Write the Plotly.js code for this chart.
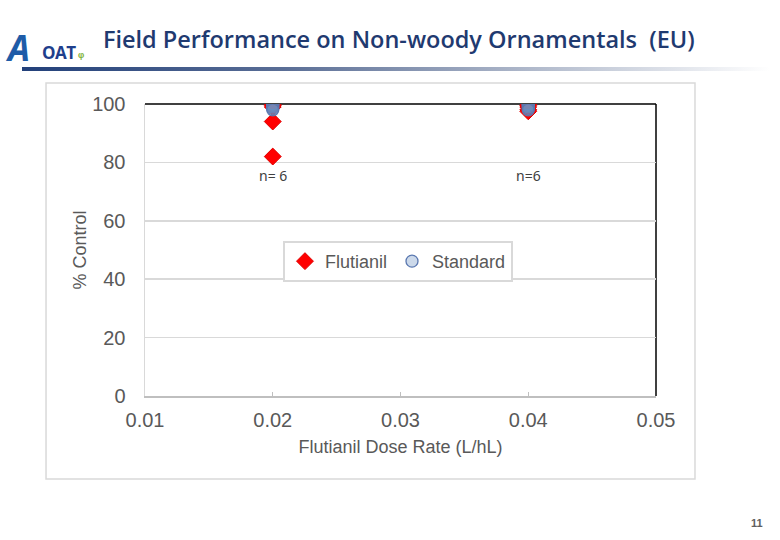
<!DOCTYPE html>
<html>
<head>
<meta charset="utf-8">
<script src="https://cdn.plot.ly/plotly-3.0.1.min.js"></script>
<style>
  html, body { margin: 0; padding: 0; background: #ffffff; }
  #wrap { position: relative; width: 780px; height: 540px; overflow: hidden; }
  #chart { position: absolute; left: 0; top: 0; width: 780px; height: 540px; }
  #bar { position: absolute; left: 22px; top: 67px; width: 748px; height: 4px;
         background: linear-gradient(to right, #22407a 0%, #5a6e96 35%, #a8b2c6 65%, #ffffff 100%); }
  .logo { position: absolute; font-family: "Open Sans", sans-serif; white-space: nowrap; line-height: 1; font-weight: 700; }
  #logoA { left: 8px; top: 30px; font-size: 35px; font-style: italic; color: #1e5ca8; }
  #logoO { left: 42px; top: 44px; font-size: 17px; color: #1f3f8c; letter-spacing: -0.5px; }
  #logoG { left: 78px; top: 46px; font-size: 13px; color: #7db33a; }
</style>
</head>
<body>
<div id="wrap">
  <div id="chart"></div>
  <div id="bar"></div>
  <div class="logo" id="logoA">A</div>
  <div class="logo" id="logoO">OAT</div>
  <div class="logo" id="logoG">ᵩ</div>
</div>
<script>
// Data
const flutianilDose = [0.02, 0.02, 0.02, 0.02, 0.02, 0.02, 0.04, 0.04, 0.04, 0.04, 0.04, 0.04];
const flutianilControl = [100, 100, 99.5, 99, 94, 82, 100, 100, 99.5, 99, 98, 97.5];
const standardDose = [0.02, 0.02, 0.02, 0.02, 0.02, 0.02, 0.04, 0.04, 0.04, 0.04, 0.04, 0.04];
const standardControl = [100, 100, 99.5, 99, 98.5, 98, 100, 100, 99.5, 99, 98.5, 98];
const nLabelDose = [0.02, 0.04];
const nLabelText = ["n= 6", "n=6"];
const nLabelY = 75.5;
const xTicks = [0.01, 0.02, 0.03, 0.04, 0.05];
const xTickText = ["0.01", "0.02", "0.03", "0.04", "0.05"];
const yTicks = [0, 20, 40, 60, 80, 100];

const traces = [
  {
    x: flutianilDose, y: flutianilControl, name: "Flutianil",
    type: "scatter", mode: "markers",
    marker: { symbol: "diamond", size: 13, color: "#ff0000", line: { width: 1, color: "#e00000" } }
  },
  {
    x: standardDose, y: standardControl, name: "Standard",
    type: "scatter", mode: "markers",
    marker: { symbol: "circle", size: 12, color: "rgba(110,145,195,0.35)", line: { width: 1.3, color: "#5a78b0" } }
  }
];

const axisFont = { family: "Liberation Sans, Arial, sans-serif", size: 20, color: "#595959" };
const titleFont = { family: "Liberation Sans, Arial, sans-serif", size: 18, color: "#595959" };

const annotations = nLabelDose.map((d, i) => ({
  x: d, y: nLabelY, xref: "x", yref: "y", text: nLabelText[i], showarrow: false,
  font: { family: "Noto Sans, sans-serif", size: 14, color: "#404040" }
}));
annotations.push({
  x: 1.213, y: -0.462, xref: "paper", yref: "paper", text: "<b>11</b>", showarrow: false,
  font: { family: "Liberation Sans, Arial, sans-serif", size: 11, color: "#606060" }
});

const layout = {
  width: 780, height: 540,
  margin: { l: 145, r: 124, t: 104, b: 144 },
  paper_bgcolor: "rgba(0,0,0,0)", plot_bgcolor: "#ffffff",
  title: {
    text: "Field Performance on Non-woody Ornamentals  (EU)",
    x: 0.132, xanchor: "left", y: 0.926, yanchor: "middle",
    font: { family: "Open Sans, sans-serif", size: 23.5, color: "#1f3a70", weight: 600 }
  },
  xaxis: {
    range: [0.01, 0.05], tickvals: xTicks, ticktext: xTickText,
    showgrid: false, zeroline: false,
    showline: true, linecolor: "#bfbfbf", linewidth: 2,
    ticks: "inside", ticklen: 4, tickcolor: "#bfbfbf",
    ticklabelstandoff: 5,
    tickfont: axisFont,
    title: { text: "Flutianil Dose Rate (L/hL)", font: titleFont, standoff: 10 }
  },
  yaxis: {
    range: [0, 100], tickvals: yTicks,
    showgrid: true, gridcolor: "#d9d9d9", gridwidth: 1.5, zeroline: false,
    showline: true, linecolor: "#d9d9d9", linewidth: 1.5,
    ticks: "", ticklabelstandoff: 14,
    tickfont: axisFont,
    title: { text: "% Control", font: titleFont, standoff: 1 }
  },
  legend: {
    orientation: "h", x: 0.27, xanchor: "left", y: 0.531, yanchor: "top",
    bgcolor: "#ffffff", bordercolor: "#d9d9d9", borderwidth: 2,
    font: { family: "Liberation Sans, Arial, sans-serif", size: 18, color: "#595959" },
    itemwidth: 30
  },
  showlegend: true,
  annotations: annotations,
  shapes: [
    { type: "rect", xref: "paper", yref: "paper", x0: -0.1937, x1: 1.0763, y0: -0.284, y1: 1.072,
      line: { color: "#d9d9d9", width: 1.5 }, fillcolor: "rgba(0,0,0,0)", layer: "below" },
    { type: "line", xref: "x domain", yref: "y domain", x0: 0, x1: 1, y0: 1, y1: 1,
      line: { color: "#000000", width: 1.5 }, layer: "below" },
    { type: "line", xref: "x domain", yref: "y domain", x0: 1, x1: 1, y0: 0, y1: 1,
      line: { color: "#000000", width: 1.5 }, layer: "below" }
  ]
};

Plotly.newPlot("chart", traces, layout, { displayModeBar: false, staticPlot: true });
</script>
</body>
</html>
